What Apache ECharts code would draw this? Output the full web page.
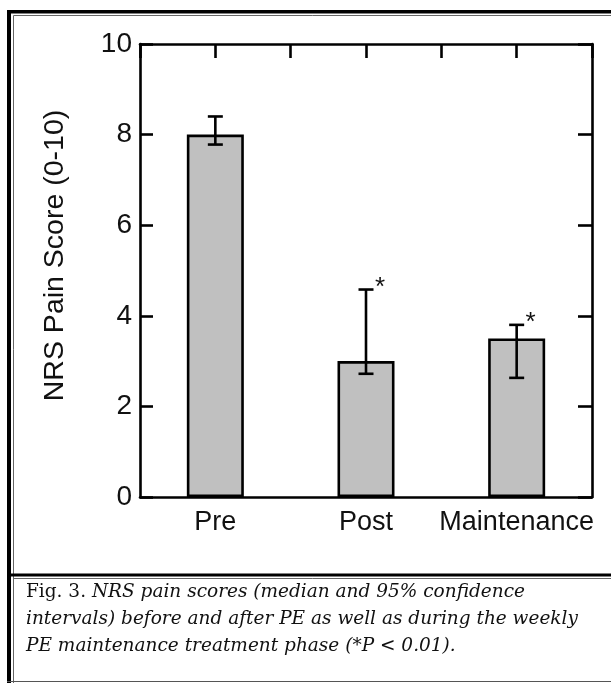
<!DOCTYPE html>
<html>
<head>
<meta charset="utf-8">
<script src="https://cdn.jsdelivr.net/npm/echarts@6/dist/echarts.min.js"></script>
<style>
html,body{margin:0;padding:0;background:#fff;}
#chart{width:611px;height:683px;}
</style>
</head>
<body>
<div id="chart"></div>
<script>
// ---- data ----
const categories = ['Pre', 'Post', 'Maintenance'];
const medians = [8, 3, 3.5];
const ciLow = [7.78, 2.72, 2.63];
const ciHigh = [8.4, 4.58, 3.8];
const significance = ['', '*', '*'];
const yTicks = [0, 2, 4, 6, 8, 10];
const yAxisTitle = 'NRS Pain Score (0-10)';
const captionLines = [
  ['Fig. 3. ', 'NRS pain scores (median and 95% confidence'],
  ['', 'intervals) before and after PE as well as during the weekly'],
  ['', 'PE maintenance treatment phase (*P < 0.01).']
];

const chart = echarts.init(document.getElementById('chart'), null, {renderer: 'canvas'});
const SANS = 'Liberation Sans, Arial, sans-serif';
const SERIF = 'DejaVu Serif, serif';
const LW = 2.6;

const captionText = captionLines.map(l => (l[0] ? '{n|' + l[0] + '}' : '') + '{i|' + l[1] + '}').join('\n');

const option = {
  backgroundColor: '#fff',
  animation: false,
  grid: {left: 140, right: 19, top: 44, bottom: 186, containLabel: false},
  xAxis: [
    {
      type: 'category', data: categories, position: 'bottom',
      axisLine: {onZero: false, lineStyle: {color: '#000', width: LW}},
      axisTick: {show: false},
      axisLabel: {color: '#111', fontFamily: SANS, fontSize: 27, margin: 12, interval: 0, hideOverlap: false},
      splitLine: {show: false}
    },
    {
      type: 'value', position: 'top', min: -0.5, max: 2.5, interval: 0.5,
      axisLine: {show: true, onZero: false, lineStyle: {color: '#000', width: LW}},
      axisTick: {show: true, inside: true, length: 14, lineStyle: {color: '#000', width: LW}},
      axisLabel: {show: false}, splitLine: {show: false}
    }
  ],
  yAxis: [
    {
      type: 'value', position: 'left', min: yTicks[0], max: yTicks[yTicks.length - 1], interval: 2,
      name: yAxisTitle, nameLocation: 'middle', nameGap: 70,
      nameTextStyle: {color: '#111', fontFamily: SANS, fontSize: 28.5, padding: [0, 0, 0, 30]},
      axisLine: {show: true, onZero: false, lineStyle: {color: '#000', width: LW}},
      axisTick: {show: true, inside: true, length: 13, lineStyle: {color: '#000', width: LW}},
      axisLabel: {color: '#111', fontFamily: SANS, fontSize: 28, margin: 8},
      splitLine: {show: false}
    },
    {
      type: 'value', position: 'right', min: yTicks[0], max: yTicks[yTicks.length - 1], interval: 2,
      axisLine: {show: true, onZero: false, lineStyle: {color: '#000', width: LW}},
      axisTick: {show: true, inside: true, length: 14, lineStyle: {color: '#000', width: LW}},
      axisLabel: {show: false}, splitLine: {show: false}
    }
  ],
  series: [
    {
      type: 'bar', data: medians, xAxisIndex: 0, yAxisIndex: 0, barWidth: 57,
      itemStyle: {color: '#c0c0c0', borderColor: '#000', borderWidth: LW},
      z: 2
    },
    {
      type: 'custom', xAxisIndex: 0, yAxisIndex: 0, z: 5,
      data: categories.map((c, i) => [i, ciLow[i], ciHigh[i]]),
      renderItem: function (params, api) {
        const i = api.value(0);
        const lo = api.coord([i, api.value(1)]);
        const hi = api.coord([i, api.value(2)]);
        const half = 7.5;
        const st = {stroke: '#000', lineWidth: LW};
        const children = [
          {type: 'line', shape: {x1: hi[0], y1: hi[1], x2: lo[0], y2: lo[1]}, style: st},
          {type: 'line', shape: {x1: hi[0] - half, y1: hi[1], x2: hi[0] + half, y2: hi[1]}, style: st},
          {type: 'line', shape: {x1: lo[0] - half, y1: lo[1], x2: lo[0] + half, y2: lo[1]}, style: st}
        ];
        const s = significance[params.dataIndex];
        if (s) {
          children.push({type: 'text', style: {x: hi[0] + 14, y: hi[1] - 2, text: s, fill: '#111',
            font: '26px ' + SANS, align: 'center', verticalAlign: 'middle'}});
        }
        return {type: 'group', children: children};
      }
    }
  ],
  graphic: [
    // outer thick frame
    {type: 'rect', shape: {x: 7, y: 10, width: 4, height: 673}, style: {fill: '#000'}, silent: true},
    {type: 'rect', shape: {x: 7, y: 10, width: 604, height: 3.5}, style: {fill: '#000'}, silent: true},
    // inner thin frame
    {type: 'line', shape: {x1: 13.5, y1: 15.5, x2: 13.5, y2: 683}, style: {stroke: '#666', lineWidth: 1}, silent: true},
    {type: 'line', shape: {x1: 13.5, y1: 15.5, x2: 611, y2: 15.5}, style: {stroke: '#666', lineWidth: 1}, silent: true},
    // separator
    {type: 'rect', shape: {x: 7, y: 573.5, width: 604, height: 3}, style: {fill: '#000'}, silent: true},
    {type: 'line', shape: {x1: 13.5, y1: 578.5, x2: 611, y2: 578.5}, style: {stroke: '#666', lineWidth: 1}, silent: true},
    {type: 'line', shape: {x1: 7, y1: 681.5, x2: 611, y2: 681.5}, style: {stroke: '#555', lineWidth: 1.2}, silent: true},
    // caption
    {
      type: 'text', left: 26, top: 583, silent: true,
      style: {
        text: captionText, fill: '#111',
        rich: {
          n: {fontFamily: SERIF, fontSize: 18.5, fontStyle: 'normal', lineHeight: 27, fill: '#111'},
          i: {fontFamily: SERIF, fontSize: 18.5, fontStyle: 'italic', lineHeight: 27, fill: '#111'}
        }
      }
    }
  ]
};
chart.setOption(option);
</script>
</body>
</html>
